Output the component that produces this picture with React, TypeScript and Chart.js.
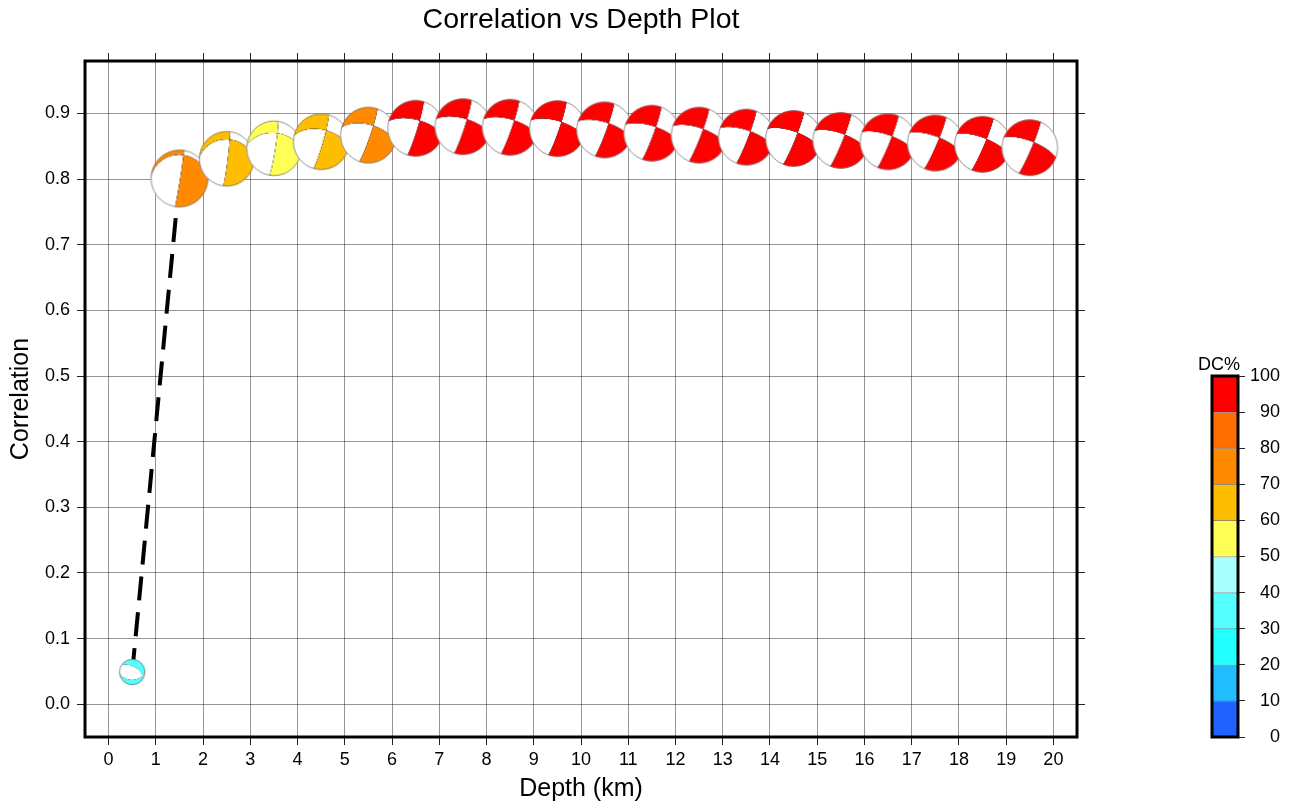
import React, { useEffect, useRef } from 'react';
import { Chart, registerables } from 'chart.js';

Chart.register(...registerables);

// ---------- data ----------
const depthKm = [0.5, 1.5, 2.5, 3.5, 4.5, 5.5, 6.5, 7.5, 8.5, 9.5, 10.5, 11.5, 12.5, 13.5, 14.5, 15.5, 16.5, 17.5, 18.5, 19.5];
const correlation = [0.049, 0.801, 0.831, 0.847, 0.857, 0.867, 0.8775, 0.880, 0.879, 0.877, 0.875, 0.870, 0.867, 0.864, 0.862, 0.859, 0.857, 0.855, 0.853, 0.848];
const dcPercent = [32, 75, 65, 55, 65, 75, 95, 95, 95, 95, 95, 95, 95, 95, 95, 95, 95, 95, 95, 95];
const strikeDeg = [300, 9, 7, 9, 16, 19, 17, 18, 19, 19, 20, 20, 21, 21, 22, 22, 22, 23, 23, 23];
const dipDeg = [55, 88, 87, 86, 85, 85, 85, 85, 85, 85, 85, 85, 85, 85, 85, 85, 85, 85, 85, 85];
const rakeDeg = [-70, -108, -120, -133, -144, -149, -155, -156, -157, -158, -158, -159, -159, -160, -160, -160, -161, -161, -161, -161];
const magnitude = [2.35, 5.2, 5.0, 5.0, 5.1, 5.1, 5.1, 5.1, 5.1, 5.1, 5.1, 5.1, 5.1, 5.1, 5.1, 5.1, 5.1, 5.1, 5.1, 5.1];

const xTicks = [0, 1, 2, 3, 4, 5, 6, 7, 8, 9, 10, 11, 12, 13, 14, 15, 16, 17, 18, 19, 20];
const xTickLabels = ['0', '1', '2', '3', '4', '5', '6', '7', '8', '9', '10', '11', '12', '13', '14', '15', '16', '17', '18', '19', '20'];
const yTicks = [0, 0.1, 0.2, 0.3, 0.4, 0.5, 0.6, 0.7, 0.8, 0.9];
const yTickLabels = ['0.0', '0.1', '0.2', '0.3', '0.4', '0.5', '0.6', '0.7', '0.8', '0.9'];

const dcTicks = [0, 10, 20, 30, 40, 50, 60, 70, 80, 90, 100];
const dcBinColors = ['#2162ff', '#22bdff', '#22ffff', '#55ffff', '#aaffff', '#ffff55', '#ffbd00', '#ff8a00', '#ff6e00', '#ff0000'];
const colorbarTitle = 'DC%';

const FONT = "'Liberation Sans', Arial, Helvetica, sans-serif";

// ---------- beachball rendering ----------
function hexToRgb(h: string): [number, number, number] {
  const v = parseInt(h.slice(1), 16);
  return [(v >> 16) & 255, (v >> 8) & 255, v & 255];
}

function faultVectors(s: number, d: number, r: number) {
  const f = (s * Math.PI) / 180, dp = (d * Math.PI) / 180, l = (r * Math.PI) / 180;
  const n = [-Math.sin(dp) * Math.sin(f), Math.sin(dp) * Math.cos(f), -Math.cos(dp)];
  const u = [
    Math.cos(l) * Math.cos(f) + Math.cos(dp) * Math.sin(l) * Math.sin(f),
    Math.cos(l) * Math.sin(f) - Math.cos(dp) * Math.sin(l) * Math.cos(f),
    -Math.sin(l) * Math.sin(dp),
  ];
  return [n, u];
}

function colorForDc(dc: number) {
  return dcBinColors[Math.max(0, Math.min(9, Math.floor(dc / 10)))];
}

function drawBeachball(radius: number, s: number, d: number, r: number, color: string) {
  const size = Math.ceil(2 * radius + 4);
  const canvas = document.createElement('canvas');
  canvas.width = size;
  canvas.height = size;
  const ctx = canvas.getContext('2d')!;
  const img = ctx.createImageData(size, size);
  const [n, u] = faultVectors(s, d, r);
  const c = size / 2;
  const [cr, cg, cb] = hexToRgb(color);
  const SS = 5;
  const darken = radius < 16 ? 0.35 : 0.6;
  for (let py = 0; py < size; py++) {
    for (let px = 0; px < size; px++) {
      let inside = 0, comp = 0;
      for (let sy = 0; sy < SS; sy++) {
        for (let sx = 0; sx < SS; sx++) {
          const a = (px + (sx + 0.5) / SS - c) / radius;
          const b = (py + (sy + 0.5) / SS - c) / radius;
          const rr = Math.hypot(a, b);
          if (rr > 1) continue;
          inside++;
          const inc = 2 * Math.asin(rr / Math.SQRT2);
          const az = Math.atan2(a, -b);
          const g0 = Math.sin(inc) * Math.cos(az);
          const g1 = Math.sin(inc) * Math.sin(az);
          const g2 = Math.cos(inc);
          const amp = (n[0] * g0 + n[1] * g1 + n[2] * g2) * (u[0] * g0 + u[1] * g1 + u[2] * g2);
          if (amp > 0) comp++;
        }
      }
      if (!inside) continue;
      const f = comp / inside;
      const edge = f > 0 && f < 1 ? 1 - darken * (1 - Math.abs(2 * f - 1)) : 1;
      const idx = (py * size + px) * 4;
      img.data[idx] = (255 * (1 - f) + cr * f) * edge;
      img.data[idx + 1] = (255 * (1 - f) + cg * f) * edge;
      img.data[idx + 2] = (255 * (1 - f) + cb * f) * edge;
      img.data[idx + 3] = Math.round((255 * inside) / (SS * SS));
    }
  }
  ctx.putImageData(img, 0, 0);
  ctx.beginPath();
  ctx.arc(c, c, radius - 0.2, 0, Math.PI * 2);
  ctx.strokeStyle = 'rgba(110,110,110,0.95)';
  ctx.lineWidth = 0.8;
  ctx.stroke();
  return canvas;
}

// ---------- plugins ----------
const framePlugin = {
  id: 'frame',
  afterDatasetsDraw(chart: any, _args: any, opts: any) {
    const { left, top, right, bottom } = chart.chartArea;
    const ctx = chart.ctx;
    ctx.save();
    ctx.lineWidth = opts.width || 3;
    ctx.strokeStyle = '#000';
    ctx.strokeRect(left, top, right - left, bottom - top);
    ctx.restore();
  },
};

const barTitlePlugin = {
  id: 'barTitle',
  afterDraw(chart: any, _args: any, opts: any) {
    const { left, right, top } = chart.chartArea;
    const ctx = chart.ctx;
    ctx.save();
    ctx.font = `${opts.size}px ${FONT}`;
    ctx.fillStyle = '#000';
    ctx.textAlign = 'center';
    ctx.textBaseline = 'alphabetic';
    ctx.fillText(opts.text, (left + right) / 2 + opts.dx, top - opts.gap);
    ctx.restore();
  },
};

const setTicks = (vals: number[]) => (scale: any) => {
  scale.ticks = vals.map((v) => ({ value: v }));
};

const gridStyle = {
  color: 'rgba(0,0,0,0.42)',
  lineWidth: 1,
  tickColor: '#222',
  tickWidth: 1,
  tickLength: 8,
  drawTicks: true,
};

export default function App() {
  const mainRef = useRef<HTMLCanvasElement>(null);
  const barRef = useRef<HTMLCanvasElement>(null);

  useEffect(() => {
    Chart.defaults.font.family = FONT;
    Chart.defaults.color = '#000';

    const balls = depthKm.map((_, i) =>
      drawBeachball(magnitude[i] * 5.5, strikeDeg[i], dipDeg[i], rakeDeg[i], colorForDc(dcPercent[i]))
    );

    const main = new Chart(mainRef.current!, {
      type: 'scatter',
      data: {
        datasets: [
          {
            data: depthKm.map((x, i) => ({ x, y: correlation[i] })),
            showLine: true,
            borderColor: '#000',
            borderWidth: 4,
            borderDash: [24, 12],
            borderCapStyle: 'butt',
            backgroundColor: 'transparent',
            pointStyle: balls as any,
            pointRadius: 3,
            pointHoverRadius: 3,
            pointBorderWidth: 0,
            clip: false as any,
          } as any,
        ],
      },
      plugins: [framePlugin],
      options: {
        animation: false,
        responsive: false,
        events: [],
        layout: { padding: 0, autoPadding: false } as any,
        plugins: {
          legend: { display: false },
          tooltip: { enabled: false },
          frame: { width: 3 },
        } as any,
        scales: {
          x: {
            type: 'linear',
            position: 'bottom',
            min: -0.5,
            max: 20.5,
            afterBuildTicks: setTicks(xTicks),
            afterFit: (s: any) => { s.height = 73; },
            ticks: {
              font: { size: 18 },
              color: '#000',
              padding: 4,
              maxRotation: 0,
              autoSkip: false,
              callback: (v: any) => {
                const i = xTicks.indexOf(Number(v));
                return i >= 0 ? xTickLabels[i] : '';
              },
            },
            grid: gridStyle,
            border: { display: false },
            title: { display: true, text: 'Depth (km)', font: { size: 25 }, color: '#000', padding: { top: 0, bottom: 6 } },
          },
          x2: {
            type: 'linear',
            position: 'top',
            min: -0.5,
            max: 20.5,
            afterBuildTicks: setTicks(xTicks),
            afterFit: (s: any) => { s.height = 61; },
            ticks: { display: false },
            grid: { ...gridStyle, drawOnChartArea: false },
            border: { display: false },
            title: { display: true, text: 'Correlation vs Depth Plot', font: { size: 28.5 }, color: '#000', padding: { top: 3, bottom: 0 } },
          },
          y: {
            type: 'linear',
            position: 'left',
            min: -0.05,
            max: 0.98,
            afterBuildTicks: setTicks(yTicks),
            afterFit: (s: any) => { s.width = 85; },
            ticks: {
              font: { size: 18 },
              color: '#000',
              padding: 7,
              callback: (v: any) => {
                const i = yTicks.findIndex((t) => Math.abs(t - Number(v)) < 1e-9);
                return i >= 0 ? yTickLabels[i] : '';
              },
            },
            grid: gridStyle,
            border: { display: false },
            title: { display: true, text: 'Correlation', font: { size: 25 }, color: '#000', padding: { top: 6, bottom: 0 } },
          },
          y2: {
            type: 'linear',
            position: 'right',
            min: -0.05,
            max: 0.98,
            afterBuildTicks: setTicks(yTicks),
            afterFit: (s: any) => { s.width = 221; },
            ticks: { display: false },
            grid: { ...gridStyle, drawOnChartArea: false },
            border: { display: false },
          },
        } as any,
      },
    });

    const bar = new Chart(barRef.current!, {
      type: 'bar',
      data: {
        labels: [colorbarTitle],
        datasets: dcBinColors.map((col) => ({
          data: [10],
          backgroundColor: col,
          borderColor: 'rgba(0,0,0,0.4)',
          borderWidth: { top: 1, bottom: 0, left: 0, right: 0 },
          borderSkipped: false,
          barPercentage: 1,
          categoryPercentage: 1,
        })) as any,
      },
      plugins: [framePlugin, barTitlePlugin],
      options: {
        animation: false,
        responsive: false,
        events: [],
        layout: { padding: { left: 1212, top: 352, right: 18, bottom: 73 }, autoPadding: false } as any,
        plugins: {
          legend: { display: false },
          tooltip: { enabled: false },
          frame: { width: 3 },
          barTitle: { text: colorbarTitle, size: 18, dx: -6, gap: 6 },
        } as any,
        scales: {
          x: {
            position: 'top',
            stacked: true,
            afterFit: (s: any) => { s.height = 24; },
            ticks: { display: false },
            grid: { display: false },
            border: { display: false },
          },
          y: {
            position: 'right',
            stacked: true,
            min: 0,
            max: 100,
            afterBuildTicks: setTicks(dcTicks),
            afterFit: (s: any) => { s.width = 42; },
            ticks: { font: { size: 18 }, color: '#000', padding: 7, crossAlign: 'far' },
            grid: { drawOnChartArea: false, tickColor: '#222', tickLength: 7, tickWidth: 1 },
            border: { display: false },
          },
        } as any,
      },
    });

    return () => {
      main.destroy();
      bar.destroy();
    };
  }, []);

  return (
    <div style={{ position: 'absolute', left: 0, top: 0, width: 1298, height: 810, background: '#fff', overflow: 'hidden' }}>
      <canvas ref={mainRef} width={1298} height={810} style={{ position: 'absolute', left: 0, top: 0 }} />
      <canvas ref={barRef} width={1298} height={810} style={{ position: 'absolute', left: 0, top: 0, pointerEvents: 'none' }} />
    </div>
  );
}
